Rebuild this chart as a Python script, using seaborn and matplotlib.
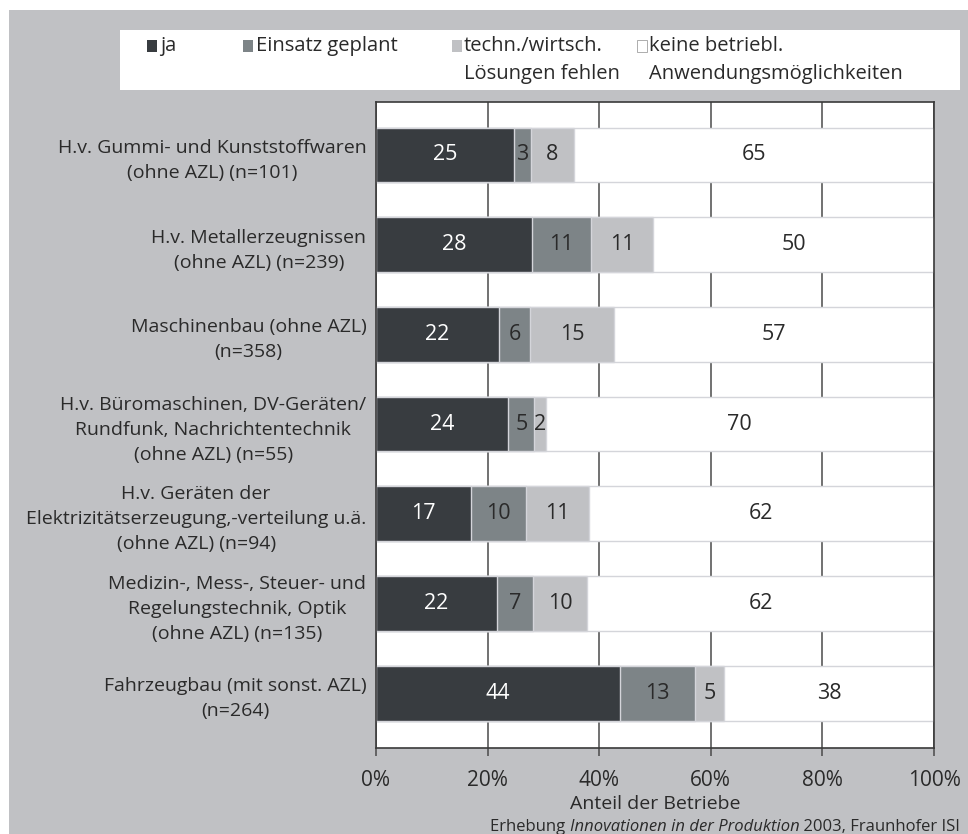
import matplotlib
matplotlib.use("Agg")
import pandas as pd
import matplotlib.pyplot as plt
from matplotlib.patches import Rectangle
import seaborn as sns

# Daten (Anteil der Betriebe in %)
branchen = [
    "H.v. Gummi- und Kunststoffwaren\n(ohne AZL) (n=101)",
    "H.v. Metallerzeugnissen\n(ohne AZL) (n=239)",
    "Maschinenbau (ohne AZL)\n(n=358)",
    "H.v. Büromaschinen, DV-Geräten/\nRundfunk, Nachrichtentechnik\n(ohne AZL) (n=55)",
    "H.v. Geräten der\nElektrizitätserzeugung,-verteilung u.ä.\n(ohne AZL) (n=94)",
    "Medizin-, Mess-, Steuer- und\nRegelungstechnik, Optik\n(ohne AZL) (n=135)",
    "Fahrzeugbau (mit sonst. AZL)\n(n=264)",
]
ja = [24.7, 27.9, 22.0, 23.7, 17.0, 21.6, 43.8]
geplant = [3.1, 10.6, 5.6, 4.7, 9.9, 6.6, 13.4]
fehlen = [7.6, 11.2, 15.0, 2.0, 11.2, 9.6, 5.2]
keine = [64.6, 50.3, 57.4, 69.6, 61.9, 62.2, 37.6]

reihen = ["ja", "Einsatz geplant", "techn./wirtsch.\nLösungen fehlen",
          "keine betriebl.\nAnwendungsmöglichkeiten"]
farben = ["#383c40", "#7d8487", "#c0c1c4", "#ffffff"]
textfarben = ["white", "#2a2a2a", "#2a2a2a", "#2a2a2a"]
hintergrund = "#c0c1c4"

sns.set_theme(style="white")
plt.rcParams["font.family"] = ["Open Sans", "DejaVu Sans"]
plt.rcParams["text.color"] = "#2a2a2a"

df = pd.DataFrame({"branche": branchen, "ja": ja, "geplant": geplant,
                   "fehlen": fehlen, "keine": keine})
spalten = ["ja", "geplant", "fehlen", "keine"]
kum = df[spalten].cumsum(axis=1)

fig = plt.figure(figsize=(9.68, 8.34), dpi=100, facecolor="white")
W, H = 968, 834
fig.patches.append(Rectangle((9 / W, 0), 1, (H - 10) / H, transform=fig.transFigure,
                             facecolor=hintergrund, edgecolor="none", zorder=-2))

ax = fig.add_axes([376 / W, 1 - 748 / H, (934 - 376) / W, (748 - 102) / H])
ax.set_facecolor("white")

# gestapelt: kumulierte Summen von hinten nach vorne
for k in range(3, -1, -1):
    sns.barplot(x=kum[spalten[k]], y=df["branche"], orient="h", color=farben[k],
                saturation=1, width=0.61, edgecolor="#d4d5da", linewidth=1.0,
                ax=ax, zorder=2)

for i in range(len(branchen)):
    start = 0
    for k, s in enumerate(spalten):
        v = df.loc[i, s]
        ax.text(start + v / 2, i, f"{v:.0f}", ha="center", va="center",
                fontsize=15.5, color=textfarben[k], zorder=5)
        start += v

ax.set_xlim(0, 100)
ax.set_ylim(6.61, -0.59)
ax.set_xticks([0, 20, 40, 60, 80, 100])
ax.set_xticklabels(["0%", "20%", "40%", "60%", "80%", "100%"])
ax.grid(axis="x", color="#4a4a4a", linewidth=1.1, zorder=0)
ax.set_axisbelow(True)
ax.set_ylabel("")
ax.set_xlabel("Anteil der Betriebe", fontsize=14, labelpad=3, color="#2a2a2a")
ax.tick_params(axis="x", direction="out", length=6, width=1.1, color="#4a4a4a",
               labelsize=15, pad=10, labelcolor="#2a2a2a", bottom=True)
ax.tick_params(axis="y", length=0, labelsize=14, pad=7, labelcolor="#2a2a2a")
for t in ax.get_yticklabels():
    t.set_multialignment("center")
    t.set_linespacing(1.5)
for sp in ax.spines.values():
    sp.set_color("#3a3a3a")
    sp.set_linewidth(1.2)

# Legende
fig.patches.append(Rectangle((120 / W, 1 - 90 / H), (960 - 120) / W, 60 / H,
                             transform=fig.transFigure, facecolor="white",
                             edgecolor="none", zorder=1))
pos = [(147, 160), (243, 256), (452, 464), (637, 649)]
for k, (qx, tx) in enumerate(pos):
    fig.patches.append(Rectangle((qx / W, 1 - 52 / H), 10 / W, 12 / H,
                                 transform=fig.transFigure, facecolor=farben[k],
                                 edgecolor="#a0a0a0" if k == 3 else "none",
                                 linewidth=0.6, zorder=2))
    fig.text(tx / W, 1 - 36 / H, reihen[k], ha="left", va="top", fontsize=14.5,
             linespacing=1.55, zorder=3)

# Quelle
yq = 1 - 831 / H
t1 = fig.text(490 / W, yq, "Erhebung ", fontsize=12, va="baseline")
t2 = fig.text(0, 0, "Innovationen in der Produktion", fontsize=12, style="italic")
t3 = fig.text(0, 0, " 2003, Fraunhofer ISI", fontsize=12)
fig.canvas.draw()
r = fig.canvas.get_renderer()
x = t1.get_window_extent(r).x1
t2.set_position((x / W, yq))
t2.set_va("baseline")
x = t2.get_window_extent(r).x1
t3.set_position((x / W, yq))
t3.set_va("baseline")

fig.savefig("out.png", dpi=100, facecolor=fig.get_facecolor())
